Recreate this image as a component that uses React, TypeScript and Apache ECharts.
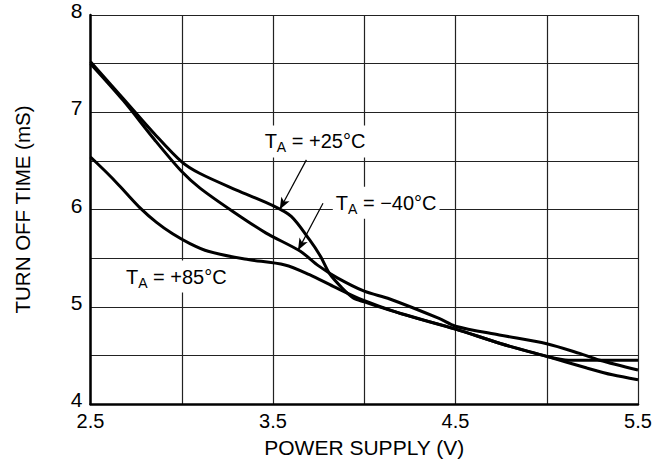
import React, { useEffect, useRef } from "react";
import * as echarts from "echarts";

const FONT = "'Liberation Sans', Arial, Helvetica, sans-serif";

const xTicks = [2.5, 3.5, 4.5, 5.5];
const yTicks = [4, 5, 6, 7, 8];

const t25: [number, number][] = [
  [2.5, 7.52], [2.68, 7.14], [2.85, 6.78], [3.0, 6.49], [3.1, 6.37], [3.3, 6.2],
  [3.5, 6.04], [3.6, 5.93], [3.7, 5.69], [3.76, 5.52], [3.81, 5.34], [3.87, 5.21],
  [3.94, 5.09], [4.0, 5.05], [4.2, 4.93], [4.5, 4.77], [4.75, 4.62], [5.0, 4.49],
  [5.12, 4.45], [5.5, 4.45],
];
const tm40: [number, number][] = [
  [2.5, 7.5], [2.68, 7.12], [2.85, 6.72], [3.0, 6.39], [3.1, 6.22], [3.28, 5.98],
  [3.46, 5.76], [3.65, 5.57], [3.75, 5.42], [3.85, 5.3], [4.0, 5.16], [4.14, 5.08],
  [4.41, 4.88], [4.5, 4.8], [4.74, 4.71], [5.0, 4.62], [5.18, 4.52], [5.29, 4.45],
  [5.5, 4.35],
];
const t85: [number, number][] = [
  [2.5, 6.54], [2.61, 6.34], [2.69, 6.18], [2.77, 6.02], [2.86, 5.87], [2.95, 5.75],
  [3.045, 5.65], [3.145, 5.57], [3.345, 5.49], [3.565, 5.43], [3.7, 5.33], [3.83, 5.21],
  [3.99, 5.07], [4.2, 4.93], [4.5, 4.77], [4.75, 4.62], [5.0, 4.49], [5.22, 4.37],
  [5.36, 4.3], [5.5, 4.25],
];

const labels = [
  { text: "+25°C", at: [3.73, 6.7] },
  { text: "−40°C", at: [4.12, 6.07] },
  { text: "+85°C", at: [2.97, 5.31] },
];
const arrows = [
  { from: [3.683, 6.51], to: [3.537, 6.0] },
  { from: [3.774, 6.065], to: [3.637, 5.58] },
];

export default function App() {
  const ref = useRef<HTMLDivElement>(null);
  useEffect(() => {
    if (!ref.current) return;
    const chart = echarts.init(ref.current, null, { renderer: "svg" });
    const lineSeries = (name: string, data: [number, number][]) => ({
      name,
      type: "line",
      data,
      smooth: 0.3,
      showSymbol: false,
      symbol: "none",
      lineStyle: { color: "#000", width: 3 },
      z: 3,
    });
    chart.setOption({
      animation: false,
      backgroundColor: "#fff",
      grid: { left: 90.5, right: 28, top: 15, bottom: 71 },
      xAxis: {
        type: "value",
        min: 2.5,
        max: 5.5,
        interval: 0.5,
        name: "POWER SUPPLY (V)",
        nameLocation: "middle",
        nameGap: 33,
        nameTextStyle: { color: "#000", fontSize: 21, fontFamily: FONT },
        axisLine: { show: true, onZero: false, lineStyle: { color: "#000", width: 2.5 } },
        axisTick: { show: false },
        axisLabel: {
          color: "#000",
          fontSize: 20,
          fontFamily: FONT,
          margin: 7,
          formatter: (v: number) => (xTicks.some((t) => Math.abs(t - v) < 1e-6) ? String(v) : ""),
        },
        splitLine: { show: true, lineStyle: { color: "#222", width: 1.2 } },
      },
      yAxis: {
        type: "value",
        min: 4,
        max: 8,
        interval: 0.5,
        name: "TURN OFF TIME (mS)",
        nameLocation: "middle",
        nameGap: 58,
        nameTextStyle: { color: "#000", fontSize: 20.5, fontFamily: FONT },
        axisLine: { show: true, onZero: false, lineStyle: { color: "#000", width: 2.5 } },
        axisTick: { show: false },
        axisLabel: {
          color: "#000",
          fontSize: 21,
          fontFamily: FONT,
          margin: 8,
          verticalAlign: "bottom",
          lineHeight: 9,
          formatter: (v: number) => (yTicks.some((t) => Math.abs(t - v) < 1e-6) ? String(v) : ""),
        },
        splitLine: { show: true, lineStyle: { color: "#222", width: 1.2 } },
      },
      series: [
        lineSeries("+25", t25),
        lineSeries("-40", tm40),
        {
          ...lineSeries("+85", t85),
          markPoint: {
            symbol: "rect",
            symbolSize: 0.01,
            silent: true,
            z: 5,
            data: labels.map((l) => ({
              coord: l.at,
              itemStyle: { color: "rgba(0,0,0,0)" },
              label: {
                show: true,
                position: "inside",
                formatter: `{t|T}{s|A}{t| = ${l.text}}`,
                backgroundColor: "#fff",
                padding: [3, 3, 3, 3],
                rich: {
                  t: { fontSize: 20, fontFamily: FONT, color: "#000" },
                  s: { fontSize: 14, fontFamily: FONT, color: "#000", padding: [12, 0, 0, 0] },
                },
              },
            })),
          },
          markLine: {
            silent: true,
            symbol: ["none", "arrow"],
            symbolSize: [7, 12],
            lineStyle: { color: "#000", width: 1.2, type: "solid" },
            label: { show: false },
            z: 6,
            data: arrows.map((a) => [{ coord: a.from }, { coord: a.to }]),
          },
        },
      ],
    });
    return () => chart.dispose();
  }, []);
  return (
    <div
      ref={ref}
      style={{ position: "fixed", left: 0, top: 0, width: 666, height: 475, background: "#fff" }}
    />
  );
}
